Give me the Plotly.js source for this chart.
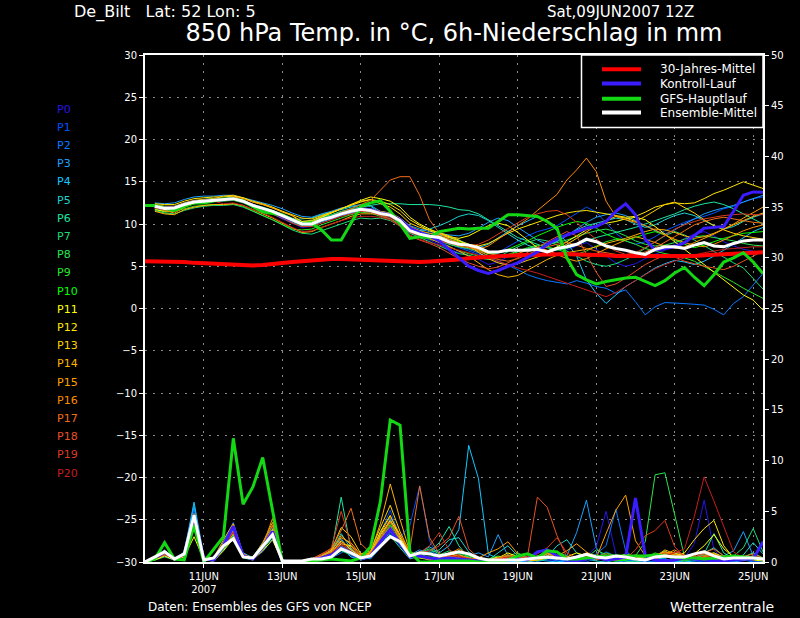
<!DOCTYPE html>
<html>
<head>
<meta charset="utf-8">
<script src="https://cdn.plot.ly/plotly-3.0.1.min.js"></script>
<style>html,body{margin:0;padding:0;background:#000;}#chart{width:800px;height:618px;}</style>
</head>
<body>
<div id="chart"></div>
<script>
// ---- time axis: GFS ensemble run 09JUN2007 12Z, 6-hourly steps ----
const runStart = [2007, 5, 9, 12];   // year, month(0-based), day, hour (UTC)
const stepHours = 6;
const nSteps = 64;

const tickDates = ['2007-06-11', '2007-06-13', '2007-06-15', '2007-06-17', '2007-06-19', '2007-06-21', '2007-06-23', '2007-06-25'];
const tickLabels = ['11JUN<br>2007', '13JUN', '15JUN', '17JUN', '19JUN', '21JUN', '23JUN', '25JUN'];

const memberNames = ['P0','P1','P2','P3','P4','P5','P6','P7','P8','P9','P10','P11','P12','P13','P14','P15','P16','P17','P18','P19','P20'];
const memberColors = ['#2814e6','#0050ff','#0a78ff','#1ea0ff','#14c8ff','#1ed2d2','#1ee6a0','#1edc78','#28e650','#28e628','#00ff00',
                      '#ffff00','#ffe600','#ffd200','#ffb400','#ffa000','#ff8c00','#f06e14','#e65028','#dc3c1e','#c81e1e'];

// ---- 850 hPa temperature (°C); null = no ensemble value at the analysis time ----
const climateTemp = [5.6,5.6,5.6,5.55,5.5,5.4,5.35,5.3,5.2,5.15,5.1,5.1,5.15,5.3,5.4,5.5,
  5.6,5.7,5.8,5.85,5.85,5.8,5.8,5.75,5.7,5.6,5.55,5.5,5.5,5.55,5.6,5.7,
  5.8,5.95,6.05,6.1,6.2,6.25,6.3,6.35,6.4,6.45,6.45,6.45,6.4,6.4,6.3,6.3,
  6.2,6.2,6.15,6.1,6.1,6.1,6.1,6.15,6.2,6.3,6.35,6.4,6.5,6.55,6.6,6.65];
const controlTemp = [null,12.1,11.9,11.9,12.3,12.6,12.7,12.8, 12.9,13.0,12.7,12.2,11.8,11.4,10.9,10.4,
  10.0,10.0,10.5,10.8,11.2,11.5,11.8,11.7, 11.3,11.1,10.5,9.5,9.0,8.6,8.0,7.0,
  6.0,5.0,4.5,4.15,4.5,5.0,5.4,6.0, 6.7,7.6,8.2,8.7,9.1,9.5,9.7,10.3,
  11.5,12.4,11.1,8.2,6.9,7.1,7.3,7.8, 8.7,9.5,9.6,9.7,11.5,13.4,13.8,13.75];
const gfsTemp = [12.2,12.2,11.9,11.6,12.1,12.5,12.5,12.75, 12.95,12.95,12.75,12.05,11.45,11.25,11.1,10.5,
  10.0,10.1,9.3,8.1,8.1,10.1,12.1,12.5, 12.75,11.5,10.0,8.3,8.5,8.4,9.1,9.3,
  9.5,9.4,9.5,9.5,10.3,11.1,11.1,11.0, 10.9,10.3,9.5,6.0,4.0,3.4,2.9,3.2,
  3.4,3.6,3.7,3.2,2.7,3.3,4.2,4.85, 3.7,2.7,4.0,5.5,6.0,6.6,5.5,4.15];
const meanTemp = [null,12.1,11.85,11.9,12.3,12.6,12.7,12.75, 12.85,13.0,12.7,12.2,11.85,11.5,11.0,10.5,
  10.0,10.0,10.5,10.8,11.2,11.5,11.75,11.6, 11.25,11.05,10.4,9.2,8.8,8.55,8.4,7.9,
  7.6,7.5,7.2,6.7,6.7,6.9,6.9,6.9, 7.0,6.7,7.1,7.3,7.6,8.2,7.9,7.4,
  7.1,6.9,6.6,6.4,7.0,7.3,7.3,7.1, 7.5,7.8,7.4,7.3,7.7,8.0,8.1,8.1];

const memberTemps = [
 [null,11.9,11.7,11.8,12.2,12.5,12.6,12.7, 12.8,12.9,12.6,12.0,11.6,11.2,10.6,10.1, 9.6,9.7,10.2,10.6,11.0,11.3,11.5,11.3, 11.0,10.8,10.0,8.9,8.5,8.1,7.6,7.0,
  6.6,6.3,5.8,5.2,5.5,6.2,6.8,7.1, 7.3,6.9,6.5,6.9,7.4,7.8,7.0,6.1, 5.4,5.0,5.3,5.9,6.4,6.9,7.6,8.3, 8.8,9.1,8.6,7.9,7.4,7.0,6.8,6.5],
 [null,12.2,12.0,12.1,12.4,12.7,12.9,13.0, 13.0,13.1,12.8,12.3,12.0,11.6,11.1,10.6, 10.2,10.1,10.6,11.0,11.3,11.6,11.9,11.7, 11.4,11.2,10.6,9.5,9.0,8.6,8.2,7.7,
  7.2,6.8,6.4,6.2,6.6,7.3,8.0,8.6, 9.1,9.4,9.8,10.5,11.2,12.0,11.4,10.1, 8.9,8.0,7.6,7.9,8.5,9.2,9.7,10.2, 10.6,10.9,11.3,11.8,12.1,12.6,13.0,13.2],
 [null,12.0,11.8,11.9,12.3,12.6,12.8,12.9, 12.9,13.1,12.8,12.3,11.9,11.4,10.9,10.3, 9.8,9.9,10.4,10.7,11.1,11.3,11.6,11.4, 11.1,10.9,10.2,9.3,8.9,8.4,8.1,7.6,
  7.3,7.0,6.6,6.0,5.6,5.1,4.6,4.0, 3.6,3.3,3.1,2.9,3.3,3.0,2.6,2.4, 1.8,2.2,0.8,-0.75,0.2,0.7,0.65,0.6, 0.5,0.4,-0.1,-0.75,0.6,1.4,2.8,4.15],
 [null,12.5,12.4,12.5,12.9,13.2,13.3,13.3, 13.4,13.4,13.1,12.8,12.5,12.2,11.8,11.3, 10.9,10.8,11.2,11.5,11.9,12.1,12.3,12.2, 11.5,11.3,10.7,9.8,9.4,9.1,8.9,8.7,
  8.6,8.9,9.5,10.2,10.7,10.4,9.6,8.8, 8.1,7.6,7.9,8.6,9.4,10.2,10.8,11.1, 11.3,11.0,10.4,9.8,9.2,8.8,9.3,10.0, 10.6,11.2,11.6,11.9,12.2,12.6,13.0,13.4],
 [null,11.9,11.6,11.7,12.1,12.4,12.6,12.7, 12.8,12.9,12.6,12.1,11.7,11.3,10.8,10.2, 9.7,9.8,10.3,10.6,11.0,11.3,11.6,11.5, 11.2,11.0,10.3,9.4,9.1,8.9,8.7,8.4,
  8.1,7.6,7.2,7.6,8.4,9.1,9.8,10.4, 10.9,10.4,9.2,7.8,6.2,3.4,1.8,0.6, 1.6,2.6,3.3,4.1,4.8,5.3,5.7,5.5, 5.2,5.6,6.2,6.9,7.6,8.4,9.1,9.6],
 [null,12.2,12.0,12.0,12.4,12.7,12.8,12.9, 13.0,13.1,12.8,12.3,11.9,11.5,11.0,10.5, 10.6,10.7,11.1,11.4,11.7,12.0,12.2,12.1, 11.3,11.1,10.5,9.6,9.2,9.4,9.8,10.3,
  10.9,11.2,11.0,10.4,9.6,8.8,8.1,7.5, 7.1,7.4,8.0,8.6,9.3,9.8,10.1,10.4, 10.7,10.5,10.0,9.6,9.9,10.5,11.0,11.3, 11.0,10.4,9.8,9.4,9.7,10.3,10.8,11.2],
 [null,12.1,11.9,11.9,12.3,12.6,12.7,12.8, 12.9,13.0,12.7,12.2,11.9,11.6,11.2,10.7, 10.3,10.4,10.8,11.1,11.5,11.8,12.0,12.2, 12.4,12.4,12.4,12.3,12.3,12.3,12.2,12.0,
  11.7,11.6,11.2,10.5,9.8,9.0,8.4,8.0, 7.6,7.2,6.9,7.1,7.5,8.0,8.4,8.7, 9.0,9.3,9.6,10.0,10.4,10.8,11.2,11.7, 12.1,12.4,12.6,12.3,11.8,11.2,10.6,10.0],
 [null,11.6,11.3,11.2,11.6,11.9,12.1,12.2, 12.2,12.3,12.0,11.5,11.0,10.5,9.9,9.3, 8.9,8.8,9.2,9.6,10.0,10.4,10.7,10.6, 10.7,10.4,9.8,8.9,8.4,7.9,7.4,6.9,
  6.5,6.3,6.0,5.8,6.1,6.7,7.3,7.8, 8.2,8.0,7.5,6.8,6.2,5.6,5.2,5.0, 5.3,5.8,6.4,7.1,7.8,8.6,9.1,8.7, 8.1,7.4,6.7,6.0,5.4,4.8,3.6,2.3],
 [null,12.0,11.8,11.8,12.2,12.5,12.6,12.7, 12.7,12.8,12.5,12.0,11.6,11.2,10.7,10.2, 9.8,9.8,10.3,10.7,11.1,11.4,11.6,11.5, 11.1,10.9,10.2,9.2,8.7,8.3,8.0,7.6,
  7.3,7.1,6.8,6.3,6.1,6.3,6.7,7.1, 7.4,7.6,7.8,8.1,8.5,8.9,9.2,9.4, 9.1,8.6,8.0,7.6,7.4,7.5,7.8,8.2, 8.5,8.6,8.4,8.2,8.0,7.7,7.5,7.4],
 [null,11.8,11.4,11.5,11.8,12.1,12.2,12.3, 12.3,12.4,12.1,11.5,11.0,10.5,9.9,9.4, 9.3,9.4,9.9,10.3,10.7,11.1,11.4,11.3, 10.9,10.6,10.0,9.1,8.6,8.2,7.9,7.3,
  6.8,6.5,6.2,5.9,6.0,6.4,6.8,7.2, 7.5,7.3,7.0,6.6,6.4,6.8,7.4,7.9, 8.2,8.0,7.6,7.1,6.8,6.5,6.3,6.0, 5.6,5.0,4.4,3.8,3.1,2.4,1.8,1.2],
 [null,12.1,11.9,12.0,12.4,12.7,12.9,13.0, 13.0,13.1,12.8,12.3,12.0,11.6,11.1,10.6, 10.2,10.3,10.7,11.0,11.4,11.7,11.9,11.8, 11.4,11.2,10.5,9.5,9.0,8.7,8.5,8.2,
  7.9,7.6,7.0,6.5,6.6,7.0,7.5,8.0, 8.6,9.1,9.6,10.0,10.3,10.1,9.5,8.8, 8.3,8.1,8.4,8.8,9.1,8.7,8.1,7.6, 7.2,7.5,7.9,8.3,8.6,8.9,9.0,9.1],
 [null,11.7,11.5,11.6,12.0,12.4,12.6,12.7, 12.8,12.9,12.6,12.2,11.8,11.4,10.9,10.4, 10.0,10.2,10.8,11.3,11.8,12.3,12.8,13.2, 13.0,12.7,12.0,10.8,10.0,9.4,8.9,8.5,
  8.3,8.6,9.2,9.8,10.1,9.8,9.0,8.1, 7.2,6.8,7.3,7.9,8.6,9.3,9.8,10.1, 10.3,10.6,10.8,10.5,9.7,8.8,7.9,7.0, 6.1,5.2,4.3,3.5,2.6,1.6,1.0,-0.2],
 [null,12.4,12.3,12.3,12.7,13.0,13.1,13.2, 13.2,13.3,13.1,12.7,12.4,12.0,11.5,11.0, 10.3,10.4,10.9,11.3,11.8,12.2,12.6,12.9, 12.7,12.3,11.6,10.5,9.8,9.2,8.8,8.4,
  8.0,7.6,7.4,7.7,8.3,8.9,9.4,9.8, 10.2,10.6,11.0,11.3,11.5,11.6,11.4,11.2, 11.0,10.8,10.9,11.4,12.0,12.3,12.5,12.4, 12.5,13.0,13.6,14.0,14.5,15.0,14.6,14.2],
 [null,12.3,12.1,12.1,12.5,12.8,12.9,13.0, 13.3,13.4,13.1,12.6,12.3,11.9,11.5,11.1, 10.7,10.6,11.0,11.4,11.8,12.3,12.7,12.9, 12.4,12.0,11.2,10.1,9.6,9.3,9.0,8.6,
  8.1,7.4,6.6,5.9,5.4,5.1,5.3,5.7, 6.1,6.5,7.0,7.6,8.3,9.1,9.8,10.4, 10.9,10.7,10.3,10.9,11.6,12.3,12.6,12.0, 11.3,10.5,9.8,9.3,8.9,8.6,8.4,8.2],
 [null,11.5,11.2,11.1,11.7,12.0,12.2,12.3, 12.3,12.4,12.2,11.7,11.2,10.7,10.1,9.5, 9.0,9.1,9.6,10.0,10.4,10.9,11.2,11.2, 11.2,11.0,10.4,9.3,8.8,8.3,7.8,7.3,
  6.8,6.2,5.4,4.6,4.0,3.7,3.9,4.5, 5.2,5.8,6.3,6.6,6.8,7.0,7.3,7.7, 8.0,8.3,8.7,9.1,9.4,9.3,9.0,8.6, 8.3,8.5,8.9,9.4,9.9,10.4,10.9,11.3],
 [null,12.0,11.8,11.9,12.3,12.6,12.7,12.8, 12.9,13.2,13.0,12.6,12.3,11.9,11.4,11.0, 10.0,10.0,10.5,10.9,11.3,11.6,11.9,11.8, 11.5,11.3,10.7,9.7,9.2,8.9,8.6,8.2,
  7.8,7.4,6.9,6.5,6.3,6.2,6.5,6.9, 7.2,6.9,6.4,5.9,5.6,5.9,6.5,7.1, 7.6,8.1,8.5,8.2,7.8,7.4,7.1,7.3, 7.8,8.3,8.8,9.4,10.0,10.7,11.3,12.0],
 [null,12.1,11.6,11.3,12.0,12.6,12.8,12.9, 12.9,13.0,12.7,12.2,11.9,11.5,11.0,10.5, 10.1,10.1,10.6,10.9,11.3,11.6,11.8,11.7, 11.3,11.1,10.4,9.4,8.9,8.5,8.2,7.8,
  7.4,7.2,7.0,7.4,8.2,9.0,9.8,10.6, 11.6,12.5,13.5,15.2,16.4,17.8,16.2,12.7, 10.9,10.5,10.2,9.8,9.3,8.7,8.2,7.8, 7.5,7.3,7.6,8.1,8.7,9.2,9.6,9.9],
 [null,11.9,11.7,11.8,12.2,12.5,12.7,12.8, 12.8,12.9,12.6,12.1,11.7,11.3,10.8,10.3, 9.9,10.0,10.5,10.9,11.4,11.8,12.3,12.8, 14.0,15.2,15.6,15.6,13.4,10.5,8.9,8.2,
  7.7,7.3,6.8,6.2,5.8,5.6,5.9,6.4, 6.9,7.3,7.6,7.8,7.5,7.1,6.8,6.6, 6.4,6.2,6.3,6.7,7.2,7.8,8.5,9.2, 9.9,10.3,10.6,10.8,10.6,10.4,10.2,10.1],
 [null,12.2,12.0,12.0,12.4,12.7,12.8,12.9, 13.0,13.0,12.7,12.2,11.8,11.4,10.9,10.4, 10.0,10.1,10.5,10.8,11.2,11.5,11.7,11.5, 11.0,10.6,9.8,8.6,8.1,7.7,7.2,6.5,
  5.9,5.4,5.0,4.7,4.9,5.4,6.0,6.6, 7.2,7.8,8.5,9.1,8.6,6.4,4.3,2.6, 2.9,3.6,4.4,5.2,5.8,6.3,6.1,5.6, 5.3,5.0,4.8,4.6,5.0,5.6,6.2,6.8],
 [null,12.0,11.8,11.8,12.2,12.5,12.7,12.8, 12.8,12.9,12.6,12.1,11.7,11.2,10.7,10.1, 9.7,9.7,10.1,10.5,10.9,11.2,11.5,11.4, 11.0,10.8,10.1,9.0,8.6,8.3,8.0,7.7,
  7.5,7.4,7.6,8.1,8.8,9.5,10.2,10.8, 11.2,11.5,11.6,11.1,10.2,9.1,8.2,7.4, 6.8,6.4,6.6,7.2,7.9,8.7,9.4,9.9, 10.3,10.6,10.8,11.0,11.1,11.2,11.1,11.1],
 [null,11.9,11.7,11.7,12.1,12.4,12.6,12.7, 12.4,12.5,12.2,11.7,11.3,10.8,10.2,9.6, 9.1,9.2,9.6,10.0,10.4,10.7,10.9,10.9, 10.8,10.5,9.7,8.7,8.2,7.8,7.5,7.2,
  6.9,6.6,6.3,6.0,5.6,5.2,4.8,4.5, 4.2,3.8,3.4,3.0,2.6,2.2,1.8,1.4, 1.9,2.6,3.4,4.1,4.7,5.2,5.6,6.0, 6.3,6.6,6.8,7.0,7.1,7.2,7.3,7.3]
];

// ---- 6h precipitation (mm), right axis ----
const controlPrecip = [0,0.4,1.0,0.3,0.8,4.5,0.3,0.2,1.6,3.5,0.6,0.3,1.5,3.0,0.1,0,
  0,0.2,0.4,0.7,1.4,0.9,0.3,0.6,2.0,3.2,1.9,0.5,0.6,0.4,0.3,0.4,
  0.3,0.2,0.1,0,0.1,0.2,0.3,0.2,1.0,1.2,0.6,0.2,0.1,0.3,0.5,0.2,
  0.3,0.5,6.3,0.6,0.2,0.1,0.2,0.4,0.3,0.2,0.1,0.1,0.2,0.3,0.3,2.0];
const gfsPrecip = [0,0.3,1.9,0.3,0.2,3.6,0,1.2,2.5,12.2,5.7,7.4,10.3,5.1,0,0,
  0,0.1,0.2,0.3,0.2,0.1,0.4,1.5,6.0,14.0,13.5,1.0,0,0,0.1,0.1,
  0.1,0.1,0,0,0,0.2,0.6,0.8,0.4,1.1,1.0,0.3,0.3,0.4,0.5,0.6,
  0.6,0.6,0.6,0.6,0.7,0.6,0.5,0.4,0.4,0.3,0.4,0.5,0.6,0.5,0.4,0.3];
const meanPrecip = [0,0.5,1.0,0.3,0.8,4.6,0.2,0.4,1.6,2.3,0.5,0.4,1.5,2.7,0.1,0.1,
  0.1,0.3,0.3,0.5,1.3,0.9,0.4,0.6,1.5,2.5,2.0,0.6,0.9,0.8,0.6,0.8,
  1.0,0.8,0.4,0.2,0.2,0.2,0.2,0.3,0.4,0.5,0.4,0.3,0.5,0.75,0.5,0.4,
  0.6,0.5,0.3,0.2,0.5,0.6,0.5,0.5,0.8,1.0,0.6,0.3,0.4,0.4,0.4,0.3];

const memberPrecips = [
 [0,0.4,0.9,0.2,0.5,4.2,0.3,0.2,1.5,3.0,0.5,0.2,1.4,2.8,0.1,0, 0,0.2,0.5,0.9,1.8,0.6,0.2,0.4,1.8,3.2,1.9,0.4,0.6,0.3,0.2,0.4,
  0.6,0.3,0.1,0,0.1,0,0,0.2,0.5,0.2,0.1,0,0.3,0.6,1.5,5.0, 0.8,0.2,0,0.1,0.3,0.2,0,0.4,1.8,6.1,1.2,0.2,0,0.1,0.3,0.2],
 [0,0.3,0.7,0.3,0.8,5.2,0.4,0.3,2.0,3.9,0.8,0.4,1.0,2.2,0.1,0, 0,0.1,0.3,0.6,1.2,0.8,0.3,0.8,2.9,5.1,2.4,3.6,7.5,2.1,0.4,0.2,
  0.1,0,0,0,0.2,0.4,0.1,0,0,0.3,0.2,0.1,0,0,0.4,1.0, 0.6,0.2,0.1,0,0,0.3,0.9,0.4,0.1,0,0,0.2,0.5,0.3,0.1,0],
 [0,0.2,0.6,0.2,0.7,4.8,0.2,0.1,1.2,2.6,0.6,0.3,1.8,3.1,0,0, 0,0,0.2,0.4,0.9,1.4,0.5,0.3,1.4,2.8,1.6,0.5,0.8,1.2,0.6,0.3,
  0.2,0.4,0.2,0,0,0,0.1,0.3,0.6,0.4,0.1,0,0.2,0.3,0.8,1.6, 5.2,1.1,0.3,0,0.1,0.2,0,0,0.3,0.6,0.2,0,0.1,0.2,0,0],
 [0,0.4,1.1,0.4,0.9,5.5,0.3,0.2,1.7,3.4,0.7,0.3,1.3,2.4,0,0, 0,0.1,0.4,0.8,2.3,1.0,0.4,0.6,2.2,4.3,2.0,0.7,1.2,0.8,0.3,0.5,
  0.3,0.6,0.9,0.5,2.7,0.6,0.1,0,0.2,0.5,0.3,0.6,2.9,6.1,1.4,0.3, 0.1,0,0.2,0.4,0.2,0.1,0,0.2,0.5,0.3,0.1,0.6,1.1,3.0,0.6,0.2],
 [0,0.3,0.8,0.3,1.0,5.9,0.5,0.2,1.9,3.6,0.9,0.4,1.6,3.3,0.2,0, 0,0.2,0.6,0.7,1.4,0.5,0.2,0.5,2.0,3.6,1.8,0.6,0.9,1.5,0.9,1.6,
  3.2,11.5,8.2,0.8,0.3,0.1,0,0,0.2,0.1,0,0.2,0.6,0.4,0.2,0.5, 0.4,0.1,0,0.2,0.4,0.3,0.1,0,0.1,0.3,0.2,0.1,0,0.2,0.4,0.3],
 [0,0.5,1.2,0.3,0.7,4.6,0.3,0.2,1.4,2.9,0.5,0.2,1.5,2.9,0.1,0, 0,0.2,0.5,1.1,2.8,1.3,0.4,0.5,1.6,3.0,1.7,0.4,0.5,0.9,1.2,2.2,
  2.4,1.0,0.4,0.2,0.9,1.6,0.6,0.2,0.1,0.5,1.6,2.2,0.9,0.3,0.1,0, 0.2,0.5,0.3,0.1,0.4,0.8,0.5,0.2,0.4,0.9,1.4,0.6,0.3,0.7,1.9,0.8],
 [0,0.4,1.0,0.2,0.6,4.1,0.2,0.1,1.2,2.5,0.4,0.2,1.2,2.5,0,0, 0,0.3,0.6,1.0,6.4,1.2,0.3,0.4,1.5,2.6,1.4,0.3,0.6,1.0,1.9,3.5,
  1.6,0.4,0.2,0.1,0.3,0.5,0.2,0.1,0.3,0.8,0.4,0.2,0.3,0.7,0.4,0.2, 0.1,0.3,0.6,0.4,0.2,0.5,0.9,0.6,0.3,0.8,2.8,0.9,0.3,0.5,0.9,0.4],
 [0,0.2,0.5,0.2,0.5,3.8,0.3,0.3,1.8,3.3,0.7,0.5,1.9,3.6,0.2,0, 0,0.1,0.2,0.5,1.1,0.7,0.3,0.6,2.4,3.4,2.2,0.8,0.6,0.4,0.7,1.1,
  0.8,0.3,0.1,0,0.2,0.6,0.9,0.4,0.1,0.3,1.0,0.6,0.2,0.4,1.2,0.7, 0.3,0.1,0,0.2,0.6,1.1,0.5,0.2,0.3,0.7,0.9,0.4,0.6,1.4,3.3,1.0],
 [0,0.3,0.9,0.3,0.8,4.5,0.4,0.2,1.5,3.1,0.6,0.3,1.4,2.7,0.1,0, 0,0.2,0.4,0.8,1.6,0.9,0.3,0.7,2.6,4.0,2.1,0.5,0.4,0.2,0.3,0.6,
  0.9,0.5,0.2,0.1,0.3,0.7,0.4,0.2,0.4,0.9,0.6,0.3,0.2,0.4,0.7,0.5, 0.3,0.2,0.6,2.0,8.6,8.8,4.8,0.5,0.2,0.4,0.3,0.1,0.2,0.5,0.3,0.1],
 [0,0.3,0.7,0.2,0.6,4.0,0.2,0.2,1.3,2.7,0.5,0.3,1.6,3.0,0.1,0, 0,0.1,0.3,0.6,1.3,0.8,0.2,0.5,1.9,3.3,1.8,0.4,0.9,1.3,0.8,0.5,
  0.4,0.2,0.1,0.3,0.6,0.3,0.1,0.2,0.5,1.1,0.7,0.3,0.1,0.2,0.5,0.9, 0.6,0.3,0.2,0.4,0.9,0.6,0.2,0.1,0.3,0.6,0.4,0.2,0.1,0.3,0.5,0.2],
 [0,0.4,1.0,0.3,0.7,4.3,0.3,0.2,1.6,2.9,0.6,0.3,1.3,2.6,0.1,0, 0,0.2,0.4,0.7,1.5,1.1,0.4,0.6,2.1,3.7,2.3,0.6,0.7,0.5,0.4,0.7,
  1.1,0.6,0.3,0.1,0.2,0.4,0.3,0.1,0.3,0.6,0.4,0.2,0.5,0.8,0.4,0.2, 0.1,0.2,0.4,0.3,0.5,0.9,0.6,0.3,0.2,0.5,0.8,0.4,0.2,0.3,0.6,0.4],
 [0,0.2,0.6,0.2,0.5,2.5,0.2,0.1,1.1,2.3,0.5,0.2,1.1,2.2,0,0, 0,0.1,0.3,0.7,1.8,1.6,0.6,0.9,3.0,4.6,2.4,0.7,0.5,0.3,0.5,0.9,
  0.5,0.3,0.2,0.1,0.4,0.9,0.5,0.2,0.2,0.4,0.3,0.5,0.9,0.6,0.3,0.2, 0.4,0.8,0.5,0.3,0.6,1.0,0.7,0.4,0.8,1.6,2.7,1.3,0.5,0.3,0.2,0.1],
 [0,0.3,0.8,0.3,0.6,3.3,0.3,0.2,1.4,2.8,0.6,0.4,1.7,3.2,0.1,0, 0,0.2,0.5,0.9,2.1,1.2,0.5,0.8,2.7,4.1,2.6,0.6,0.4,0.3,0.2,0.4,
  0.3,0.2,0.1,0.2,0.5,0.3,0.1,0.2,0.6,0.9,0.5,0.2,0.4,0.7,0.5,0.3, 0.2,0.4,0.6,0.3,0.5,0.8,0.6,0.9,2.2,3.3,4.1,1.6,0.4,0.2,0.3,0.2],
 [0,0.4,1.1,0.4,0.7,3.9,0.3,0.3,1.7,3.1,0.7,0.3,1.5,3.0,0.1,0, 0,0.2,0.6,1.2,3.4,2.5,0.8,1.1,3.4,5.6,3.0,0.9,0.6,0.4,0.3,0.5,
  0.4,0.3,0.2,0.1,0.3,0.5,0.3,0.1,0.2,0.5,0.4,0.2,0.3,0.5,0.4,0.2, 0.3,0.5,0.4,0.2,0.4,0.7,0.9,0.5,0.3,0.6,0.9,0.5,0.2,0.3,0.4,0.2],
 [0,0.3,0.9,0.3,0.6,3.6,0.4,0.4,2.2,3.8,0.8,0.3,1.4,2.9,0.1,0, 0,0.2,0.5,1.0,2.6,1.7,0.6,1.0,3.8,7.7,4.2,1.0,0.7,0.4,0.3,0.6,
  0.7,0.4,0.2,0.1,0.2,0.4,0.3,0.2,0.3,0.6,0.4,0.3,0.5,0.9,0.6,0.3, 0.2,0.4,0.3,0.2,0.5,1.2,0.8,0.4,0.3,0.5,0.7,0.3,0.2,0.4,0.3,0.2],
 [0,0.3,0.8,0.2,0.7,4.0,0.3,0.2,1.8,3.5,0.7,0.4,1.9,3.9,0.1,0, 0,0.3,0.7,1.1,2.4,1.9,0.7,0.9,2.8,4.5,2.7,0.8,0.6,0.3,0.4,0.6,
  0.5,0.3,0.4,0.9,1.3,2.0,0.8,0.3,0.2,0.4,0.6,1.1,1.8,1.0,0.4,2.8, 5.1,6.6,2.1,0.6,0.3,0.7,1.2,0.6,0.3,0.5,0.4,0.2,0.3,0.6,0.4,0.2],
 [0,0.4,1.0,0.3,0.8,4.4,0.4,0.3,1.9,3.3,0.6,0.3,1.6,4.3,0.2,0, 0,0.2,0.4,0.9,2.0,1.4,0.5,0.8,2.5,4.0,2.2,0.6,0.5,0.2,0.3,0.8,
  1.3,0.7,0.3,0.1,0.3,0.6,0.5,0.2,0.4,0.8,0.5,0.3,0.2,0.4,0.3,0.2, 0.3,0.5,0.4,0.3,0.6,1.0,0.7,0.4,0.6,1.1,0.8,0.4,0.3,0.5,0.4,0.3],
 [0,0.3,0.9,0.4,0.9,4.8,0.5,0.3,1.7,3.6,0.8,0.4,1.5,3.6,0.2,0, 0,0.3,0.8,1.3,3.1,5.3,1.8,0.9,2.3,3.9,2.5,1.2,7.5,2.4,0.8,0.5,
  0.6,0.4,0.2,0.1,0.4,0.7,0.5,0.3,0.5,0.9,0.6,0.3,0.4,0.8,0.5,0.3, 0.2,0.4,0.7,0.5,0.3,0.6,1.0,0.7,0.4,0.9,1.3,0.6,0.3,0.5,0.8,0.4],
 [0,0.3,0.7,0.3,0.7,4.1,0.3,0.2,1.5,3.0,0.6,0.3,1.3,2.8,0.1,0, 0,0.2,0.4,0.8,1.9,1.0,0.4,0.7,2.2,3.5,2.0,0.7,0.9,1.1,1.6,2.4,
  4.5,1.3,0.4,0.2,0.3,0.4,0.2,0.6,6.4,5.4,2.6,0.5,0.3,0.5,0.4,0.2, 0.3,0.6,0.4,0.2,0.5,0.9,0.6,0.3,0.5,0.8,0.6,0.3,0.2,0.4,0.6,0.3],
 [0,0.4,1.0,0.3,0.6,4.3,0.4,0.3,1.8,3.4,0.7,0.3,1.4,3.0,0.1,0, 0,0.3,0.7,1.4,5.0,1.7,0.5,0.6,2.0,3.4,2.1,0.6,0.9,1.6,2.9,1.2,
  0.6,0.3,0.2,0.1,0.2,0.4,0.3,0.5,0.8,1.4,2.4,0.9,0.4,0.3,0.5,0.8, 0.6,0.3,1.2,2.6,3.1,4.1,1.5,0.5,0.3,0.6,0.5,0.3,0.2,0.4,0.6,0.3],
 [0,0.3,0.8,0.2,0.6,3.9,0.3,0.2,1.4,2.9,0.6,0.3,1.5,2.9,0.1,0, 0,0.2,0.5,0.9,1.7,1.1,0.4,0.5,1.9,3.1,1.7,0.5,0.6,0.4,0.5,0.7,
  0.5,0.3,0.2,0.1,0.3,0.5,0.4,0.2,0.3,0.6,0.4,0.2,0.3,0.5,0.3,0.2, 0.3,0.5,0.4,0.2,0.4,0.6,0.9,1.3,4.5,8.4,6.0,3.5,1.0,0.4,0.3,0.2]
];

// ---- texts ----
const titleText = '850 hPa Temp. in °C, 6h-Niederschlag in mm';
const stationText = 'De_Bilt   Lat: 52 Lon: 5';
const runText = 'Sat,09JUN2007 12Z';
const sourceText = 'Daten: Ensembles des GFS von NCEP';
const brandText = 'Wetterzentrale';
const legendNames = ['30-Jahres-Mittel', 'Kontroll-Lauf', 'GFS-Hauptlauf', 'Ensemble-Mittel'];

// ---- build ----
function pad(n){ return (n < 10 ? '0' : '') + n; }
const times = [];
for (let i = 0; i < nSteps; i++) {
  const d = new Date(Date.UTC(runStart[0], runStart[1], runStart[2], runStart[3] + i * stepHours));
  times.push(d.getUTCFullYear() + '-' + pad(d.getUTCMonth() + 1) + '-' + pad(d.getUTCDate()) + ' ' + pad(d.getUTCHours()) + ':00');
}

const FONT = 'DejaVu Sans, sans-serif';
const traces = [];
memberTemps.forEach((vals, k) => {
  traces.push({x: times, y: vals, type: 'scatter', mode: 'lines', yaxis: 'y',
    line: {color: memberColors[k], width: 1}, showlegend: false, hoverinfo: 'skip', name: memberNames[k]});
});
memberPrecips.forEach((vals, k) => {
  traces.push({x: times, y: vals, type: 'scatter', mode: 'lines', yaxis: 'y2',
    line: {color: memberColors[k], width: 1}, showlegend: false, hoverinfo: 'skip', name: memberNames[k]});
});
const mainColors = ['#ff0000', '#3a1cff', '#14d814', '#ffffff'];
const mainWidths = [4, 3, 3, 3];
const mainTemps = [climateTemp, controlTemp, gfsTemp, meanTemp];
const mainPrecips = [null, controlPrecip, gfsPrecip, meanPrecip];
mainTemps.forEach((vals, k) => {
  traces.push({x: times, y: vals, type: 'scatter', mode: 'lines', yaxis: 'y', name: legendNames[k],
    line: {color: mainColors[k], width: mainWidths[k]}, showlegend: false});
  if (mainPrecips[k]) {
    traces.push({x: times, y: mainPrecips[k], type: 'scatter', mode: 'lines', yaxis: 'y2', name: legendNames[k],
      line: {color: mainColors[k], width: mainWidths[k]}, showlegend: false});
  }
});

// plot area in pixels: x 145..763, y 55..562
const PX = (px) => (px - 145) / 618;
const PY = (py) => (562 - py) / 507;

const annotations = [];
memberNames.forEach((nm, k) => {
  annotations.push({xref: 'paper', yref: 'paper', x: PX(55), y: PY(109 + k * 18.2), xanchor: 'left', yanchor: 'middle',
    text: nm, showarrow: false, font: {family: FONT, size: 11, color: memberColors[k]}});
});
annotations.push({xref: 'paper', yref: 'paper', x: PX(72), y: PY(12), xanchor: 'left', yanchor: 'middle',
  text: stationText, showarrow: false, font: {family: FONT, size: 16, color: '#ffffff'}});
annotations.push({xref: 'paper', yref: 'paper', x: PX(545), y: PY(12), xanchor: 'left', yanchor: 'middle',
  text: runText, showarrow: false, font: {family: FONT, size: 15, color: '#ffffff'}});
annotations.push({xref: 'paper', yref: 'paper', x: PX(146), y: PY(607), xanchor: 'left', yanchor: 'middle',
  text: sourceText, showarrow: false, font: {family: FONT, size: 12, color: '#ffffff'}});
annotations.push({xref: 'paper', yref: 'paper', x: PX(776), y: PY(607), xanchor: 'right', yanchor: 'middle',
  text: brandText, showarrow: false, font: {family: FONT, size: 14, color: '#ffffff'}});

// legend box (drawn as decoration in paper space)
const legendRowsY = [69.3, 83.6, 98.7, 112.5];
const shapes = [{type: 'rect', xref: 'paper', yref: 'paper', x0: PX(581.5), x1: 1, y0: PY(127.5), y1: 1,
  line: {color: '#ffffff', width: 1.5}, fillcolor: '#000000', layer: 'above'}];
legendNames.forEach((nm, k) => {
  shapes.push({type: 'line', xref: 'paper', yref: 'paper', x0: PX(602), x1: PX(641), y0: PY(legendRowsY[k]), y1: PY(legendRowsY[k]),
    line: {color: mainColors[k], width: 4}, layer: 'above'});
  annotations.push({xref: 'paper', yref: 'paper', x: PX(658), y: PY(legendRowsY[k]), xanchor: 'left', yanchor: 'middle',
    text: nm, showarrow: false, font: {family: FONT, size: 12, color: '#ffffff'}});
});

const axisCommon = {
  color: '#ffffff', tickfont: {family: FONT, size: 10, color: '#ffffff'},
  ticks: 'outside', ticklen: 4, tickcolor: '#ffffff', tickwidth: 1,
  showline: true, linecolor: '#ffffff', linewidth: 2, zeroline: false
};

const layout = {
  width: 800, height: 618,
  paper_bgcolor: '#000000', plot_bgcolor: '#000000',
  margin: {l: 145, r: 37, t: 55, b: 56},
  title: {text: titleText, x: 0.5675, xanchor: 'center', y: 1 - 33 / 618, yanchor: 'middle',
    font: {family: FONT, size: 24, color: '#ffffff'}},
  showlegend: false,
  xaxis: Object.assign({}, axisCommon, {
    type: 'date', range: ['2007-06-09 12:00', '2007-06-25 06:00'],
    tickmode: 'array', tickvals: tickDates, ticktext: tickLabels, mirror: true,
    showgrid: true, gridcolor: '#8a8a8a', griddash: '2px,6px', gridwidth: 1
  }),
  yaxis: Object.assign({}, axisCommon, {
    range: [-30, 30], tickmode: 'linear', tick0: -30, dtick: 5,
    showgrid: true, gridcolor: '#8a8a8a', griddash: '2px,6px', gridwidth: 1
  }),
  yaxis2: Object.assign({}, axisCommon, {
    overlaying: 'y', side: 'right', range: [0, 50], tickmode: 'linear', tick0: 0, dtick: 5, showgrid: false
  }),
  shapes: shapes,
  annotations: annotations
};

Plotly.newPlot('chart', traces, layout, {staticPlot: true, displayModeBar: false});
</script>
</body>
</html>
